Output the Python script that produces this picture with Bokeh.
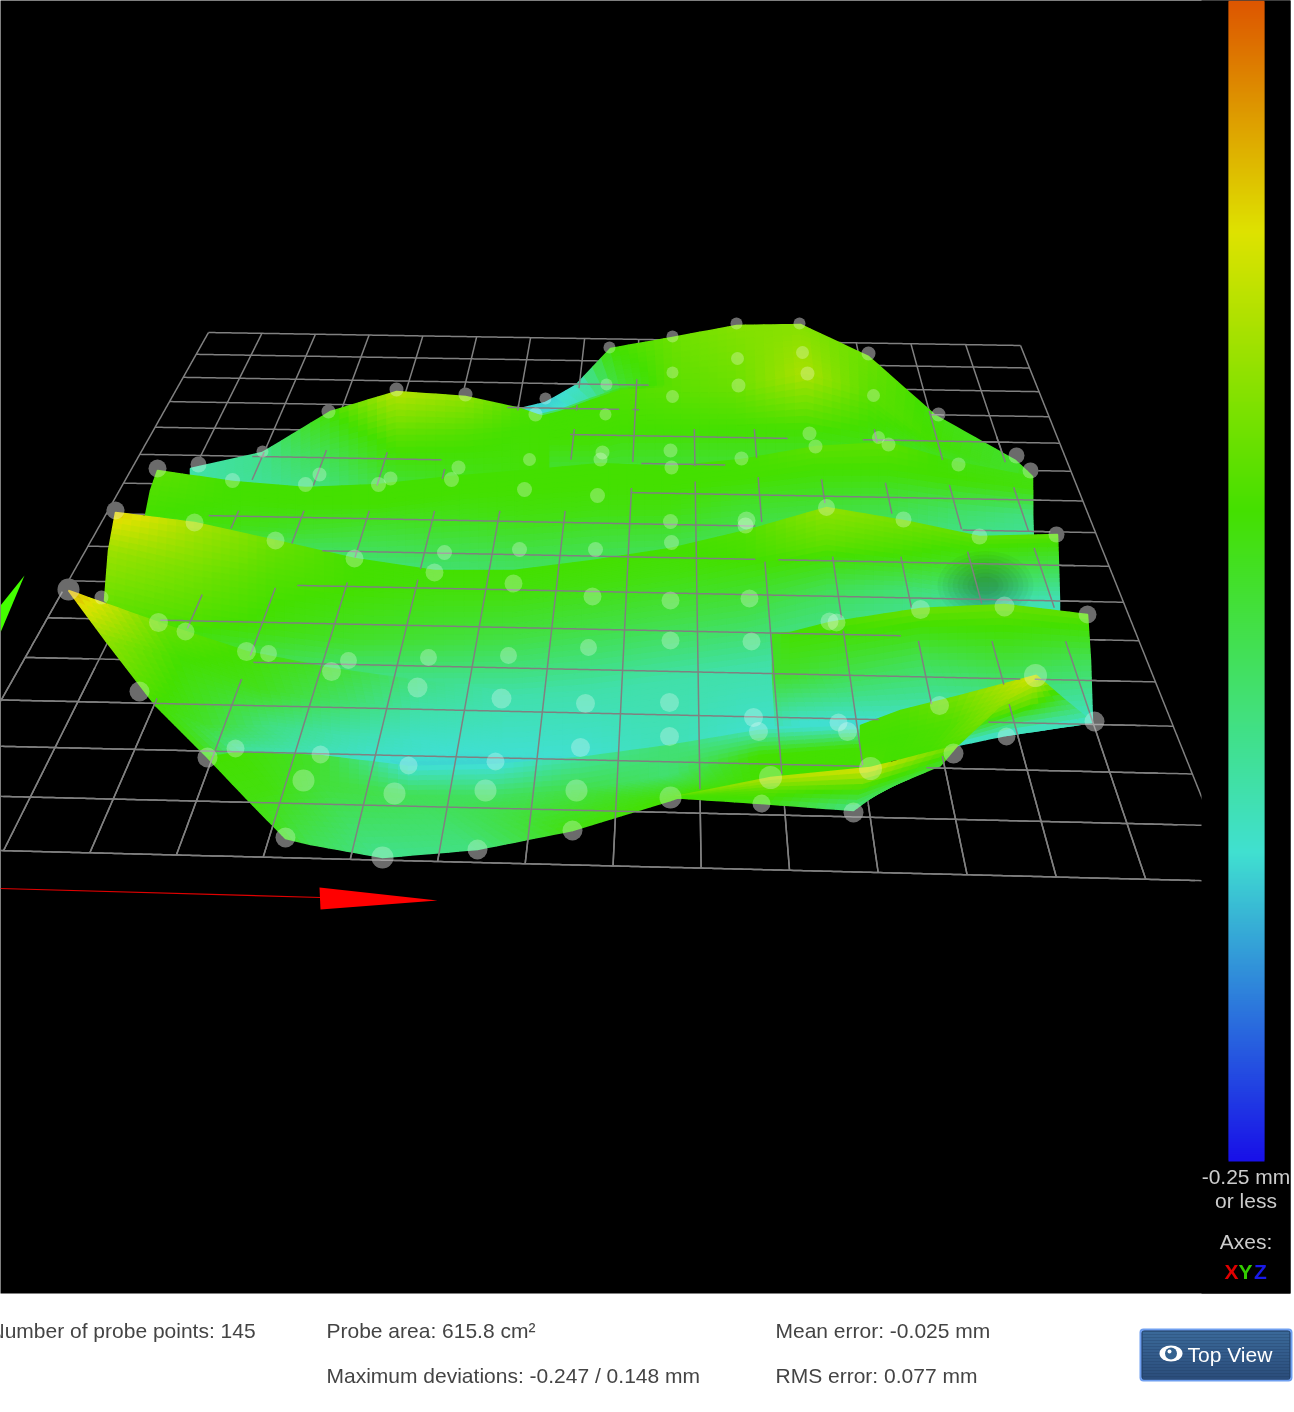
from bokeh.plotting import figure
from bokeh.models import Range1d
from bokeh.core.properties import value
from bokeh.embed import file_html
from bokeh.resources import INLINE
import math

# ---------- colour scale (mm) and colour bar ----------
scale_values = [0.25, 0.15, 0.03, -0.117, -0.25]
scale_rgb = [(221, 85, 0), (222, 226, 0), (68, 224, 0), (64, 224, 208), (24, 16, 232)]

# ---------- surface strips, back to front: rows of x, y, deviation ----------
rhill_x = [[520,545,575,610,672,736,800,868,935,1015,1032],
           [540,560,590,620,672,736,805,868,930,1010,1032],
           [540,560,590,620,672,736,805,868,930,1010,1032],
           [540,560,590,620,672,736,805,868,930,1010,1032],
           [540,560,590,620,672,736,805,868,930,1010,1032]]
rhill_y = [[408,402,385,348,337,325,324,356,415,460,476],
           [414,409,398,388,385,385,372,390,440,470,490],
           [416,411,400,390,387,387,374,392,442,472,492],
           [440,440,440,430,430,430,430,440,465,500,520],
           [490,490,490,490,490,490,490,500,520,540,545]]
rhill_v = [[-.12,-.13,-.11,.03,.06,.08,.08,.06,.02,0,.02],
           [-.12,-.12,-.09,-.01,.05,.06,.11,.05,.03,0,.02],
           [.03,.03,.03,.04,.05,.06,.11,.05,.03,0,.02],
           [.03,.03,.03,.03,.03,.03,.03,.02,-.01,-.02,-.03],
           [-.03,-.03,-.03,-.03,-.03,-.03,-.03,-.03,-.04,-.05,-.05]]

lhill_x = [[190,262,330,396,465,520,548]]*3
lhill_y = [[468,452,411,391,396,408,418],
           [478,468,450,435,435,430,430],
           [495,495,495,495,495,495,495]]
lhill_v = [[-.09,-.07,.03,.12,.09,.04,.03],
           [-.09,-.07,-.02,.05,.04,.03,.03],
           [-.09,-.08,-.06,-.02,.0,.02,.03]]

ridgeb_x = [[157,232,305,378,451,524,600,671,741,815,888,958,1030],
            [150,232,305,378,451,524,600,671,741,815,888,958,1032],
            [145,232,305,378,451,524,600,671,741,815,888,958,1032],
            [145,232,305,378,451,524,600,671,741,815,888,958,1034]]
ridgeb_y = [[470,481,487,484,476,470,463,466,459,446,442,462,476],
            [490,500,505,505,495,490,485,485,480,470,470,480,490],
            [515,525,530,525,520,515,510,510,505,500,500,510,515],
            [560,570,575,580,580,580,575,570,560,550,550,560,565]]
ridgeb_v = [[.05,.03,.03,.03,.03,.03,.03,.03,.03,.05,.05,.02,.02],
            [.04,.03,.03,.03,.03,.03,.03,.03,.03,.03,.03,.03,.02],
            [.03,.02,.0,.0,.01,.02,.02,.02,.0,.0,-.01,-.04,-.06],
            [-.08,-.08,-.08,-.07,-.06,-.05,-.05,-.05,-.05,-.06,-.07,-.09,-.10]]

ridgec_x = [[115,194,275,354,434,513,592,670,746,826,903,979,1057],
            [108,194,275,354,434,513,592,670,746,826,903,979,1058],
            [104,194,275,354,434,513,592,670,746,826,903,979,1059],
            [170,194,275,354,434,513,592,670,746,826,903,979,1059],
            [230,250,290,354,434,513,592,670,746,826,903,979,1059]]
ridgec_y = [[512,522,540,558,570,570,560,548,530,507,520,536,534],
            [550,570,580,590,595,595,585,575,560,545,555,565,565],
            [600,620,630,640,640,640,630,620,610,590,590,600,600],
            [660,680,690,695,695,695,690,680,670,660,660,660,660],
            [755,755,755,765,770,770,765,760,750,740,730,726,722]]
ridgec_v = [[.17,.11,.06,.03,.03,.03,.03,.03,.04,.09,.07,.05,.05],
            [.10,.07,.04,.03,.02,.02,.02,.02,.03,.05,.03,.0,-.02],
            [.06,.04,.02,.0,-.01,-.02,-.02,-.02,-.02,-.03,-.05,-.08,-.10],
            [.03,-.03,-.07,-.09,-.09,-.09,-.09,-.09,-.09,-.09,-.10,-.10,-.10],
            [-.10,-.11,-.11,-.12,-.125,-.125,-.12,-.10,-.12,-.12,-.12,-.12,-.12]]

wedge_x = [[68,158,246,331,417,501],[105,180,260,340,420,501],[155,205,270,340,420,501],[207,240,320,408,495,540]]
wedge_y = [[590,622,651,668,680,690],[640,660,690,700,710,720],[705,725,725,735,740,745],[757,750,753,765,763,760]]
wedge_v = [[.19,.06,.03,.0,-.06,-.09],[.09,.03,.01,-.04,-.09,-.10],[.03,.0,-.06,-.09,-.11,-.113],[.02,-.08,-.10,-.125,-.125,-.12]]

front_x = [[207,235,320,408,495,580,669,758,847,890],[245,270,320,408,495,580,669,758,855,890],[285,310,382,477,572,670,700,760,853,890]]
front_y = [[757,752,755,766,764,757,745,730,726,726],[797,790,785,795,795,790,775,755,748,748],[838,844,857,849,830,800,790,790,775,775]]
front_v = [[.03,.03,.0,-.12,-.125,-.08,-.05,-.10,-.125,-.125],[.02,.02,-.01,-.03,-.04,-.02,-.05,.03,.03,.03],[.01,-.03,-.07,-.06,.02,.03,.03,.03,.03,.03]]

ridgee_x = [[772,790,829,920,1004,1087],[772,790,829,920,1004,1090],[775,800,850,950,1005,1092]]
ridgee_y = [[633,632,622,608,604,614],[675,675,675,660,660,660],[725,725,725,731,735,722]]
ridgee_v = [[.01,.03,.04,.06,.06,.05],[.0,.0,-.02,-.03,-.01,-.03],[-.10,-.12,-.125,-.12,-.125,-.11]]

tip_x = [[1000,1035,1036],[960,1030,1065],[957,1005,1092]]
tip_y = [[700,675,675],[730,705,700],[745,735,722]]
tip_v = [[.13,.14,.13],[.02,.05,-.02],[-.12,-.12,-.11]]

ridgef_x = [[860,900,960,1035],[860,900,950,1000],[860,890,925,957]]
ridgef_y = [[725,710,695,675],[745,735,725,705],[770,760,755,745]]
ridgef_v = [[.03,.04,.07,.14],[.03,.03,.04,.09],[.04,.03,.03,.04]]

yellow_x = [[670,770,870,957],[670,770,860,940],[670,761,853,880]]
yellow_y = [[797,777,767,745],[797,790,790,765],[797,803,810,790]]
yellow_v = [[.05,.12,.15,.06],[.03,.05,.03,.0],[.03,.02,-.07,-.02]]

strips = [(rhill_x, rhill_y, rhill_v), (lhill_x, lhill_y, lhill_v), (ridgeb_x, ridgeb_y, ridgeb_v),
          (ridgec_x, ridgec_y, ridgec_v)]
front_strips = [(wedge_x, wedge_y, wedge_v), (ridgee_x, ridgee_y, ridgee_v), (front_x, front_y, front_v),
                (tip_x, tip_y, tip_v), (ridgef_x, ridgef_y, ridgef_v), (yellow_x, yellow_y, yellow_v)]

# ---------- probe points ----------
probe_x = [68,101,115,157,198,262,328,396,465,545,609,672,736,799,868,938,1016,1030,1056,1087,1094,1006,953,853,761,670,572,477,382,285,207,139,
           737,802,672,738,807,606,672,873,605,535,809,878,888,815,670,602,600,529,458,741,671,958,
           319,232,305,390,378,451,524,597,670,745,826,903,979,
           194,275,354,434,513,592,670,749,829,836,920,1004,
           444,519,595,671,746,158,185,246,268,331,348,428,508,588,670,751,
           417,501,585,669,753,758,847,838,939,1035,235,320,408,495,580,669,303,394,485,576,770,870]
probe_y = [589,597,510,468,464,451,411,389,394,398,347,336,323,323,353,414,455,470,534,614,721,736,753,812,803,797,830,849,857,837,757,691,
           358,352,372,385,373,384,396,395,414,414,433,437,444,446,450,452,459,459,467,458,467,464,
           474,480,484,478,484,479,489,495,521,525,507,519,536,
           522,540,558,572,583,596,600,598,621,622,609,606,
           552,549,549,542,520,622,631,651,653,671,660,657,655,647,640,641,
           687,698,703,702,717,731,731,722,705,675,748,754,765,761,747,736,780,793,790,790,777,768]
probe_d = [22,14,18,18,16,12,14,14,14,12,12,12,12,12,14,14,16,16,16,18,20,18,20,20,18,22,20,20,22,20,20,20,
           13,13,12,14,14,12,13,13,12,14,14,13,14,14,14,14,14,13,14,14,14,14,
           14,15,15,14,15,15,15,15,15,16,17,16,16,
           18,18,18,18,18,18,18,18,18,18,19,20,
           15,15,15,15,18,19,18,19,17,19,17,17,17,17,18,18,
           20,20,19,19,19,19,19,18,19,23,18,18,18,18,19,19,22,22,22,22,23,23]

# ---------- floor grid: four corners of a 15 x 15 cell plane ----------
grid_corner_x = [208, 1020, -83, 1235]
grid_corner_y = [332, 345, 848, 881]
grid_cells = 15

# where the floor shows through the surface, and where a crest hides it
show_polys = [
    ([208,628,630,690,700,1035,1062,1095,1201,0,0,60,150,197],[510,510,487,487,474,487,530,610,880,880,620,590,620,596]),
    ([250,320,330,440,447,380,305,250],[452,449,449,454,478,486,486,480]),
    ([568,631,631,553,553,650,650,640,640,788,788,760,757,720,640,640,568],[428,428,388,388,378,378,388,388,428,428,440,440,458,466,466,462,460]),
    ([845,870,880,1000,1000,890],[436,428,428,436,445,445]),
    ([928,945,955,942],[410,410,460,460]),
    ([990,1010,1012,1000],[440,440,462,462]),
    ([505,620,620,505],[404,404,410,410]),
]
hide_polys = [
    ([100,195,275,354,440,420,305,200,100],[510,520,540,558,572,578,584,594,600]),
    ([757,826,903,979,1060,1062,1035,967,900,833,765,757],[523,503,516,534,531,548,547,550,555,556,560,560]),
    ([60,246,252,240,165,100],[585,650,662,680,700,680]),
    ([860,1035,1000,950,870],[725,675,712,750,768]),
    ([670,770,870,950,853,761],[797,775,765,750,812,805]),
    ([772,829,920,1004,1092,1094,1060,905,896,772],[632,620,606,602,612,640,640,640,628,632]),
]

# ---------- axes arrows ----------
x_axis_x, x_axis_y = [0, 320], [888, 897]
x_cone_x, x_cone_y = [319, 320, 437], [887, 909, 900]
y_cone_x, y_cone_y = [24, 0, 0], [575, 605, 632]

# ---------- texts ----------
stats = [("Number of probe points: 145", -11, 1330), ("Probe area: 615.8 cm²", 326, 1330),
         ("Maximum deviations: -0.247 / 0.148 mm", 326, 1375), ("Mean error: -0.025 mm", 775, 1330),
         ("RMS error: 0.077 mm", 775, 1375)]
side = [("-0.25 mm", 1176), ("or less", 1200), ("Axes:", 1241)]
xyz = [("X", 1231, "#e00000"), ("Y", 1245, "#33cc00"), ("Z", 1260, "#1a1ae6")]


def colour(v):
    v = max(min(v, scale_values[0]), scale_values[-1])
    for i in range(len(scale_values) - 1):
        a, b = scale_values[i], scale_values[i + 1]
        if b <= v <= a:
            t = (a - v) / (a - b)
            c = [round(scale_rgb[i][k] + (scale_rgb[i + 1][k] - scale_rgb[i][k]) * t) for k in range(3)]
            return "#%02x%02x%02x" % tuple(c)


def mesh(sx, sy, sv, cell_x=10, cell_y=7):
    xs, ys, cs = [], [], []
    for r in range(len(sx) - 1):
        h = max(abs(sy[r + 1][c] - sy[r][c]) for c in range(len(sx[0])))
        m = max(1, math.ceil(h / cell_y))
        for c in range(len(sx[0]) - 1):
            w = max(abs(sx[r][c + 1] - sx[r][c]), abs(sx[r + 1][c + 1] - sx[r + 1][c]))
            n = max(1, math.ceil(w / cell_x))
            def at(u, t, arr):
                top = arr[r][c] * (1 - u) + arr[r][c + 1] * u
                bot = arr[r + 1][c] * (1 - u) + arr[r + 1][c + 1] * u
                return top * (1 - t) + bot * t
            for i in range(n):
                for j in range(m):
                    u0, u1, t0, t1 = i / n, (i + 1) / n, j / m, (j + 1) / m
                    xs.append([at(u0, t0, sx), at(u1, t0, sx), at(u1, t1, sx), at(u0, t1, sx)])
                    ys.append([at(u0, t0, sy), at(u1, t0, sy), at(u1, t1, sy), at(u0, t1, sy)])
                    cs.append(colour(at((u0 + u1) / 2, (t0 + t1) / 2, sv)))
    return xs, ys, cs


def homography(cx, cy):
    x0, x1, x2, x3 = cx[0], cx[1], cx[3], cx[2]
    y0, y1, y2, y3 = cy[0], cy[1], cy[3], cy[2]
    dx1, dx2, sx = x1 - x2, x3 - x2, x0 - x1 + x2 - x3
    dy1, dy2, sy = y1 - y2, y3 - y2, y0 - y1 + y2 - y3
    den = dx1 * dy2 - dx2 * dy1
    g = (sx * dy2 - dx2 * sy) / den
    h = (dx1 * sy - sx * dy1) / den
    a, b, c = x1 - x0 + g * x1, x3 - x0 + h * x3, x0
    d, e, f = y1 - y0 + g * y1, y3 - y0 + h * y3, y0
    return lambda u, t: ((a * u + b * t + c) / (g * u + h * t + 1), (d * u + e * t + f) / (g * u + h * t + 1))


def inside(px, py, poly):
    xs, ys = poly
    hit = False
    for i in range(len(xs)):
        j = i - 1
        if (ys[i] > py) != (ys[j] > py) and px < (xs[j] - xs[i]) * (py - ys[i]) / (ys[j] - ys[i]) + xs[i]:
            hit = not hit
    return hit


H = homography(grid_corner_x, grid_corner_y)
grid_lines = []
for k in range(grid_cells + 1):
    grid_lines.append([H(k / grid_cells, s / 400) for s in range(401)])
    grid_lines.append([H(s / 400, k / grid_cells) for s in range(401)])

base_xs = [[q[0] for q in ln] for ln in grid_lines]
base_ys = [[q[1] for q in ln] for ln in grid_lines]
over_xs, over_ys = [], []
for ln in grid_lines:
    run = []
    for q in ln:
        vis = any(inside(q[0], q[1], P) for P in show_polys) and not any(inside(q[0], q[1], P) for P in hide_polys)
        if vis:
            run.append(q)
        else:
            if len(run) > 1:
                over_xs.append([a[0] for a in run]); over_ys.append([a[1] for a in run])
            run = []
    if len(run) > 1:
        over_xs.append([a[0] for a in run]); over_ys.append([a[1] for a in run])

p = figure(width=1294, height=1412, x_range=Range1d(0, 1294), y_range=Range1d(1412, 0),
           output_backend="svg", toolbar_location=None, min_border=0,
           x_axis_location=None, y_axis_location=None, background_fill_color="white",
           border_fill_color="white", outline_line_color=None,
           styles={"position": "fixed", "left": "0px", "top": "0px"})
p.grid.visible = False

p.quad(left=[-5], right=[1290], top=[-5], bottom=[1293], fill_color="black", line_color=None)

# floor
p.multi_line(base_xs, base_ys, line_color="#808080", line_width=1.5)

# axes arrows
p.line(x_axis_x, x_axis_y, line_color="#e00000", line_width=1.2)
p.patch(x_cone_x, x_cone_y, fill_color="#ff0000", line_color=None)
p.patch(y_cone_x, y_cone_y, fill_color="#44ff00", line_color=None)

# probe points seen against the black, under the surface
p.scatter(probe_x, probe_y, size=probe_d, fill_color="#333333", line_color=None)

# surface
for sx, sy, sv in strips:
    xs, ys, cs = mesh(sx, sy, sv)
    p.patches(xs, ys, fill_color=cs, line_color=cs, line_width=1.5)
for w in [96, 86, 76, 66, 56, 46, 36, 26]:
    p.ellipse([985], [585], width=[w], height=[w * .72], fill_color="black", fill_alpha=.035, line_color=None)
for sx, sy, sv in front_strips:
    xs, ys, cs = mesh(sx, sy, sv)
    p.patches(xs, ys, fill_color=cs, line_color=cs, line_width=1.5)

# floor seen through the surface
p.multi_line(over_xs, over_ys, line_color="#808080", line_width=1.5)

# probe points on top
p.scatter(probe_x, probe_y, size=probe_d, fill_color="white", fill_alpha=.28, line_color=None)

# the 3D view ends here
p.quad(left=[1201], right=[1290], top=[-5], bottom=[1293], fill_color="black", line_color=None)

# colour bar
bar_y = list(range(0, 1160, 2))
bar_c = [colour(scale_values[0] - (scale_values[0] - scale_values[-1]) * (y + 1) / 1160) for y in bar_y]
p.quad(left=1228, right=1264, top=bar_y, bottom=[y + 3 for y in bar_y], fill_color=bar_c, line_color=None)

for t, y in side:
    p.text([1245.5], [y], text=[t], text_color="#cccccc", text_font=value("Liberation Sans"), text_font_size="21px",
           text_align="center", text_baseline="middle")
for t, x, c in xyz:
    p.text([x], [1271], text=[t], text_color=c, text_font=value("Liberation Sans"), text_font_size="21px",
           text_font_style="bold", text_align="center", text_baseline="middle")
for t, x, y in stats:
    p.text([x], [y], text=[t], text_color="#444444", text_font=value("Liberation Sans"), text_font_size="21px",
           text_align="left", text_baseline="middle")

# button
p.quad(left=[1139], right=[1292], top=[1328], bottom=[1381], fill_color="#6f9ff0", line_color=None, border_radius=4)
p.quad(left=[1141], right=[1290], top=[1330], bottom=[1379], fill_color="#1e3a5c", line_color=None, border_radius=3)
btn_y = list(range(1331, 1378, 3))
btn_c = ["#%02x%02x%02x" % (round(58 - 16 * (y - 1331) / 47), round(104 - 28 * (y - 1331) / 47), round(152 - 30 * (y - 1331) / 47)) for y in btn_y]
p.quad(left=1142, right=1289, top=btn_y, bottom=[y + 3 for y in btn_y], fill_color=btn_c, line_color=None)
p.ellipse([1170.5], [1353], width=[23], height=[16], fill_color="white", line_color=None)
p.ellipse([1170.5], [1353], width=[12], height=[12], fill_color="#35628f", line_color=None)
p.ellipse([1169], [1351], width=[4], height=[4], fill_color="white", line_color=None)
p.text([1187], [1354], text=["Top View"], text_color="white", text_font=value("Liberation Sans"), text_font_size="21px",
       text_align="left", text_baseline="middle")

open("out.html", "w").write(file_html(p, INLINE))
